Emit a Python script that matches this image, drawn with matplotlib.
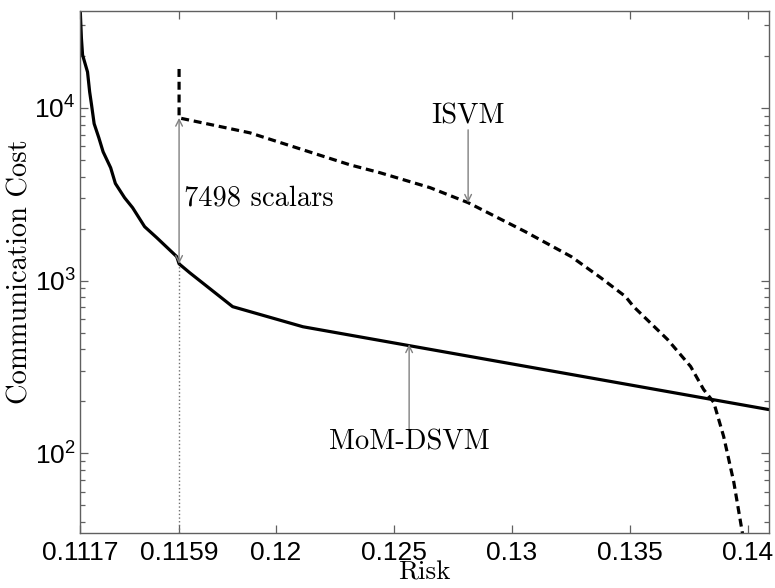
import matplotlib
matplotlib.use("Agg")
import matplotlib.pyplot as plt
from matplotlib.ticker import FixedLocator, FixedFormatter, LogLocator

plt.rcParams['font.family'] = ['Liberation Sans', 'DejaVu Sans']
plt.rcParams['mathtext.fontset'] = 'custom'
plt.rcParams['mathtext.rm'] = 'Liberation Sans'
plt.rcParams['mathtext.it'] = 'Liberation Sans:italic'
plt.rcParams['mathtext.bf'] = 'Liberation Sans:bold'

# communication cost vs. risk for the two methods
risk_mom = [0.1117, 0.11172, 0.11176, 0.11181, 0.11202, 0.11211, 0.11219,
            0.11230, 0.11250, 0.11268, 0.11300, 0.11320, 0.11359, 0.11393,
            0.11444, 0.11495, 0.1158, 0.1159, 0.11635, 0.11817, 0.12115,
            0.14089]
cost_mom = [40000, 34480, 25390, 20250, 16140, 12375, 10410,
            8100, 6707, 5568, 4500, 3650, 3018, 2642,
            2051, 1773, 1376, 1250, 1110, 706, 540,
            179]

risk_isvm = [0.1159, 0.1159, 0.1189, 0.12314, 0.12442, 0.12654, 0.12815,
             0.13057, 0.13252, 0.13376, 0.13482, 0.13516, 0.1366, 0.13758,
             0.13813, 0.13856, 0.13898, 0.13941, 0.13985]
cost_isvm = [16800, 8748, 7170, 4680, 4210, 3450, 2825,
             1920, 1376, 1041, 808, 707, 456, 318,
             234, 197, 125, 68, 30]

gap_risk = 0.1159
gap_label = "7498 scalars"

xticks = [0.1117, 0.1159, 0.12, 0.125, 0.13, 0.135, 0.14]
xticklabels = ["0.1117", "0.1159", "0.12", "0.125", "0.13", "0.135", "0.14"]

fig = plt.figure(figsize=(7.75, 5.88), dpi=100)
ax = fig.add_axes([0.1032, 0.0935, 0.889, 0.8878])

ax.plot(risk_mom, cost_mom, color='black', lw=2.3,
        solid_joinstyle='round', solid_capstyle='round')
ax.plot(risk_isvm, cost_isvm, color='black', lw=2.3, dashes=(2.5, 1.5))

ax.set_yscale('log')
ax.set_xlim(0.1117, 0.1409)
ax.set_ylim(34.5, 36400)

# dotted drop line from the gap down to the axis
lo = cost_mom[risk_mom.index(gap_risk)]
hi = cost_isvm[1]
ax.plot([gap_risk, gap_risk], [34.5, lo], color='#707070', lw=1.0, ls=':')

arrow = dict(arrowstyle='<->', color='#808080', lw=1.0, mutation_scale=12,
             shrinkA=0, shrinkB=0)
ax.annotate('', xy=(gap_risk, lo), xytext=(gap_risk, hi), arrowprops=arrow)
ax.text(0.1161, 3000, gap_label, family='cmr10', fontsize=20.5,
        ha='left', va='center')

one = dict(arrowstyle='->', color='#808080', lw=1.0, mutation_scale=12,
           shrinkA=0, shrinkB=0)
ax.annotate('', xy=(0.12815, 2825), xytext=(0.12815, 7460), arrowprops=one)
ax.text(0.12815, 7460, "ISVM", family='cmr10', fontsize=20.5,
        ha='center', va='bottom')

ax.annotate('', xy=(0.12565, 427), xytext=(0.12565, 137), arrowprops=one)
ax.text(0.12565, 137, "MoM-DSVM", family='cmr10', fontsize=20.5,
        ha='center', va='top')

ax.xaxis.set_major_locator(FixedLocator(xticks))
ax.xaxis.set_major_formatter(FixedFormatter(xticklabels))
ax.yaxis.set_major_locator(LogLocator(base=10))
ax.yaxis.set_minor_locator(LogLocator(base=10, subs=range(2, 10)))

ax.tick_params(which='both', direction='in', top=True, right=True,
               color='#606060', labelsize=19)
ax.tick_params(axis='x', pad=6)
ax.tick_params(axis='y', pad=3)
ax.tick_params(which='major', length=6, width=0.9)
ax.tick_params(which='minor', length=3.5, width=0.9)
for s in ax.spines.values():
    s.set_color('#606060')
    s.set_linewidth(1.0)

ax.set_xlabel("Risk", family='cmr10', fontsize=19.5, labelpad=-3)
ax.set_ylabel("Communication Cost", family='cmr10', fontsize=20.5, labelpad=1)

fig.savefig("out.png", dpi=100)
